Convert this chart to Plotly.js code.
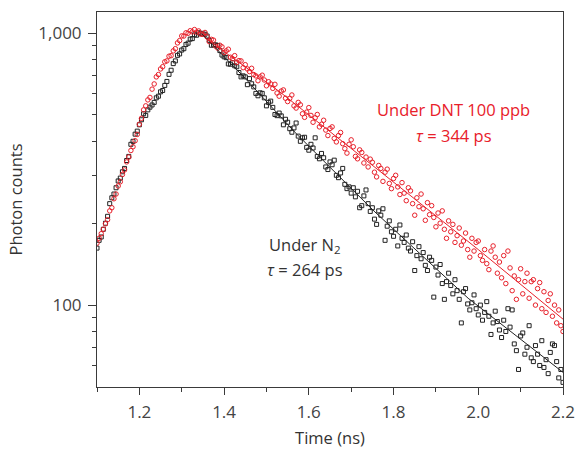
<!DOCTYPE html>
<html><head><meta charset="utf-8">
<script src="https://cdn.plot.ly/plotly-3.0.1.min.js"></script>
<style>html,body{margin:0;padding:0;background:#fff}#chart{width:577px;height:449px}</style>
</head><body><div id="chart"></div>
<script>
const timeNs = [
1.100,1.105,1.110,1.115,1.120,1.125,1.130,1.135,1.140,1.145,
1.150,1.155,1.160,1.165,1.170,1.175,1.180,1.185,1.190,1.195,
1.200,1.205,1.210,1.215,1.220,1.225,1.230,1.235,1.240,1.245,
1.250,1.255,1.260,1.265,1.270,1.275,1.280,1.285,1.290,1.295,
1.300,1.305,1.310,1.315,1.320,1.325,1.330,1.335,1.340,1.345,
1.350,
1.355,1.360,1.365,1.370,1.375,1.380,1.385,1.390,1.395,1.400,
1.405,1.410,1.415,1.420,1.425,1.430,1.435,1.440,1.445,1.450,
1.455,1.460,1.465,1.470,1.475,1.480,1.485,1.490,1.495,1.500,
1.505,1.510,1.515,1.520,1.525,1.530,1.535,1.540,1.545,1.550,
1.555,1.560,1.565,1.570,1.575,1.580,1.585,1.590,1.595,1.600,
1.605,1.610,1.615,1.620,1.625,1.630,1.635,1.640,1.645,1.650,
1.655,1.660,1.665,1.670,1.675,1.680,1.685,1.690,1.695,1.700,
1.705,1.710,1.715,1.720,1.725,1.730,1.735,1.740,1.745,1.750,
1.755,1.760,1.765,1.770,1.775,1.780,1.785,1.790,1.795,1.800,
1.805,1.810,1.815,1.820,1.825,1.830,1.835,1.840,1.845,1.850,
1.855,1.860,1.865,1.870,1.875,1.880,1.885,1.890,1.895,1.900,
1.905,1.910,1.915,1.920,1.925,1.930,1.935,1.940,1.945,1.950,
1.955,1.960,1.965,1.970,1.975,1.980,1.985,1.990,1.995,2.000,
2.005,2.010,2.015,2.020,2.025,2.030,2.035,2.040,2.045,2.050,
2.055,2.060,2.065,2.070,2.075,2.080,2.085,2.090,2.095,2.100,
2.105,2.110,2.115,2.120,2.125,2.130,2.135,2.140,2.145,2.150,
2.155,2.160,2.165,2.170,2.175,2.180,2.185,2.190,2.195,2.200
];

const countsN2 = [
162,173,178,190,200,212,236,248,256,270,
286,293,309,318,340,352,390,400,425,436,
460,480,505,498,522,534,544,556,578,586,
608,615,642,664,705,730,772,790,828,838,
866,876,908,918,950,954,985,982,1002,998,
992,
990,975,940,902,905,905,900,862,830,818,
812,770,768,778,758,752,716,690,696,690,
646,680,651,634,600,588,603,600,578,540,
556,562,533,502,497,508,496,460,482,470,
445,432,448,467,418,400,412,414,380,371,
390,378,412,352,345,361,348,322,315,336,
328,341,300,294,306,318,278,268,272,258,
270,250,262,228,232,252,265,236,221,228,
207,198,222,214,226,173,195,204,186,179,
190,165,197,176,170,181,162,158,171,134,
152,164,148,156,140,134,150,146,107,138,
129,141,120,105,122,131,118,110,124,113,
105,86,112,115,101,96,102,109,97,92,
100,88,94,103,91,78,86,95,87,81,
76,88,80,97,83,96,72,68,58,77,
79,66,70,84,64,62,71,66,60,74,
59,63,56,67,72,71,62,54,58,52
];

const countsDNT = [
169,176,183,190,199,206,222,228,246,256,
274,284,302,314,336,350,370,382,402,424,
462,486,522,540,568,580,622,650,690,704,
738,752,784,790,822,826,860,876,920,938,
976,975,1002,998,1020,1010,1030,1008,1018,990,
990,
1005,968,930,948,942,895,880,902,890,848,
860,872,815,805,826,780,792,790,746,765,
738,722,742,704,696,668,690,700,672,640,
662,650,626,648,602,586,612,618,576,560,
575,592,540,530,556,545,505,490,512,532,
498,470,488,502,452,462,478,440,420,446,
452,410,398,420,431,392,376,362,390,405,
382,352,345,372,364,333,350,322,344,335,
308,296,326,318,285,308,316,280,268,292,
300,272,255,282,258,242,270,263,236,214,
248,230,256,226,205,238,215,232,210,194,
218,200,222,190,176,204,186,198,170,180,
192,166,172,184,160,150,176,158,170,172,
152,146,160,142,135,158,165,150,131,144,
126,152,120,158,137,113,128,105,124,136,
110,122,131,106,122,124,100,115,121,97,
112,94,104,110,91,100,86,96,84,80
];

const fitN2Time = [1.347, 1.45, 1.567, 1.756, 1.976, 2.2];
const fitN2Counts = [995, 681, 432, 220, 106, 56.6];
const fitDNTTime = [1.355, 1.532, 1.756, 2.0, 2.2];
const fitDNTCounts = [960, 607, 321, 160, 88.8];

const yTickVals = [100, 1000];
const yTickText = ['100', '1,000'];
const yMinorVals = [60, 70, 80, 90, 200, 300, 400, 500, 600, 700, 800, 900];

const RED = '#e8202a';
const BLACK = '#222222';
const AX = '#3a3a3a';

const traces = [
  {x: timeNs, y: countsN2, type: 'scatter', mode: 'markers',
   marker: {symbol: 'square-open', size: 4, color: BLACK, line: {width: 1, color: BLACK}}},
  {x: timeNs, y: countsDNT, type: 'scatter', mode: 'markers',
   marker: {symbol: 'circle-open', size: 4.5, color: RED, line: {width: 1, color: RED}}},
  {x: fitN2Time, y: fitN2Counts, type: 'scatter', mode: 'lines',
   line: {color: BLACK, width: 1}},
  {x: fitDNTTime, y: fitDNTCounts, type: 'scatter', mode: 'lines',
   line: {color: RED, width: 1}}
];

const layout = {
  width: 577, height: 449,
  margin: {l: 97, r: 14, t: 12, b: 62},
  paper_bgcolor: '#fff', plot_bgcolor: '#fff',
  showlegend: false,
  font: {family: 'Open Sans, sans-serif', color: '#333', size: 16},
  xaxis: {
    range: [1.1, 2.2], tickmode: 'linear', tick0: 1.2, dtick: 0.2, tickformat: '.1f',
    ticks: 'outside', ticklen: 7, tickwidth: 1, tickcolor: AX,
    showline: true, mirror: true, linecolor: AX, linewidth: 1,
    showgrid: false, zeroline: false, ticklabelstandoff: 3,
    tickfont: {size: 17, color: '#444'},
    minor: {tick0: 1.1, dtick: 0.1, ticks: 'outside', ticklen: 4, tickwidth: 1, tickcolor: AX, showgrid: false},
    title: {text: 'Time (ns)', font: {size: 16.5, color: '#333'}, standoff: 16}
  },
  yaxis: {
    type: 'log', range: [Math.log10(50), Math.log10(1195)],
    tickmode: 'array', tickvals: yTickVals, ticktext: yTickText,
    ticks: 'outside', ticklen: 8, tickwidth: 1, tickcolor: AX,
    showline: true, mirror: true, linecolor: AX, linewidth: 1,
    showgrid: false, zeroline: false, ticklabelstandoff: 3,
    tickfont: {size: 17, color: '#444'},
    minor: {tickmode: 'array', tickvals: yMinorVals, ticks: 'outside', ticklen: 4, tickwidth: 1, tickcolor: AX, showgrid: false},
    title: {text: 'Photon counts', font: {size: 16.5, color: '#333'}, standoff: 11}
  },
  annotations: [
    {xref: 'paper', yref: 'paper', x: 0.764, y: 0.74, text: 'Under DNT 100 ppb', showarrow: false,
     xanchor: 'center', yanchor: 'middle', font: {size: 16.5, color: RED}},
    {xref: 'paper', yref: 'paper', x: 0.766, y: 0.672, text: '<i>τ</i> = 344 ps', showarrow: false,
     xanchor: 'center', yanchor: 'middle', font: {size: 16.5, color: RED}},
    {xref: 'paper', yref: 'paper', x: 0.446, y: 0.379, text: 'Under N<sub>2</sub>', showarrow: false,
     xanchor: 'center', yanchor: 'middle', font: {size: 16.5, color: '#333'}},
    {xref: 'paper', yref: 'paper', x: 0.446, y: 0.313, text: '<i>τ</i> = 264 ps', showarrow: false,
     xanchor: 'center', yanchor: 'middle', font: {size: 16.5, color: '#333'}}
  ]
};

Plotly.newPlot('chart', traces, layout, {staticPlot: true, displayModeBar: false});
</script>
</body></html>
